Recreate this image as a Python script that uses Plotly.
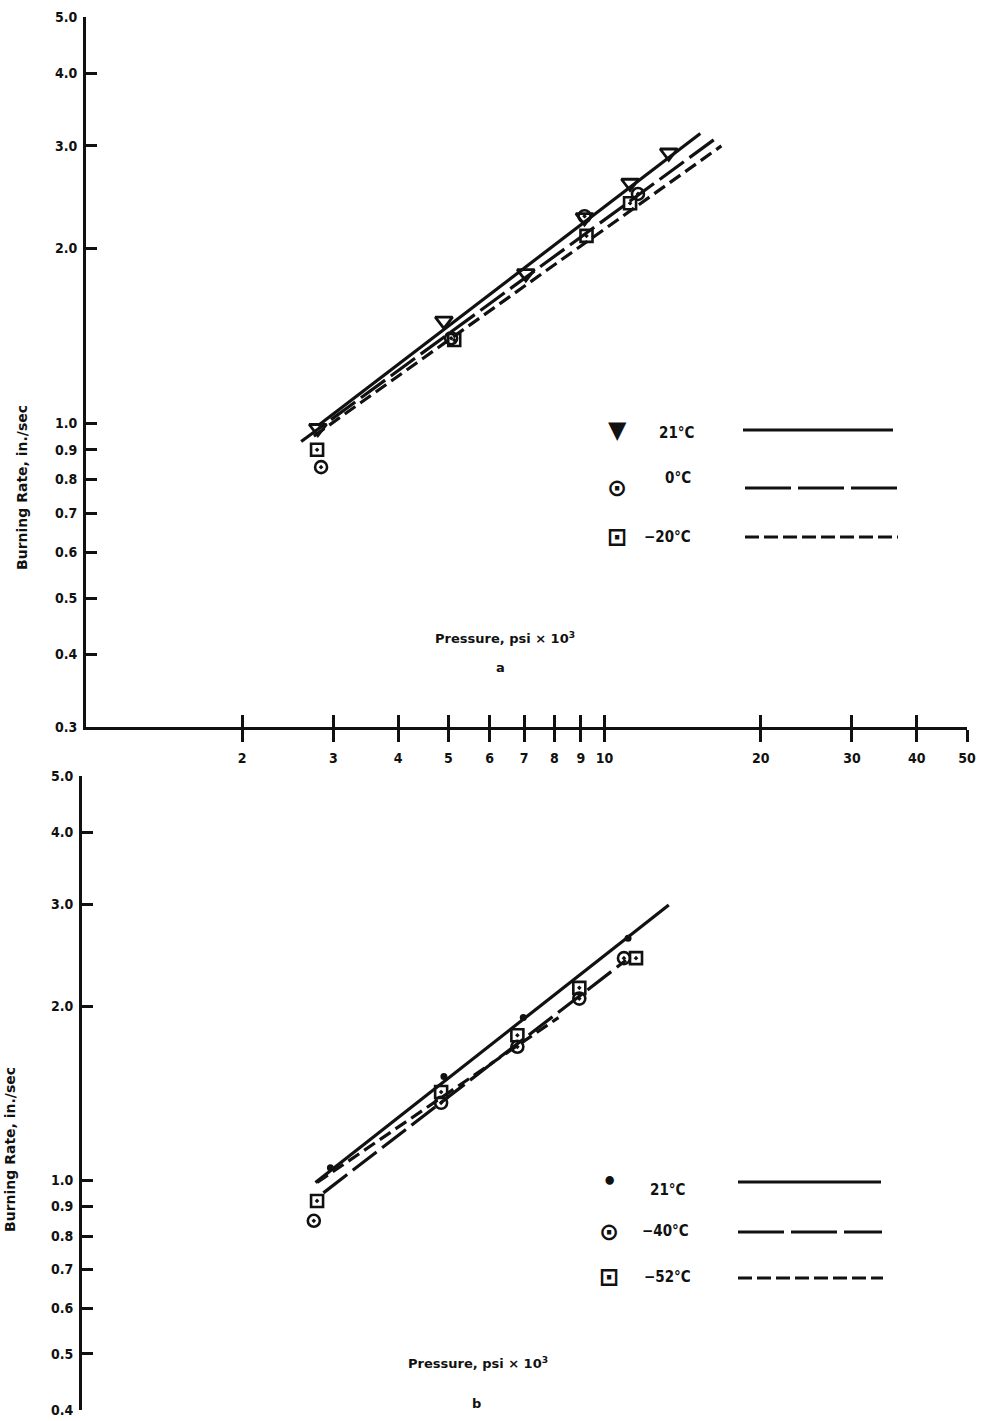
import math
import plotly.graph_objects as go

# ---------------- data ----------------
# panel a
a_p21 = [2.8, 4.9, 7.05, 9.15, 11.2, 13.3]
a_r21 = [0.98, 1.50, 1.81, 2.26, 2.59, 2.92]
a_p0 = [2.84, 5.06, 9.15, 11.6]
a_r0 = [0.84, 1.40, 2.27, 2.48]
a_pm20 = [2.79, 5.13, 9.23, 11.2]
a_rm20 = [0.90, 1.39, 2.10, 2.39]
a_fit21_p = [2.8, 15.3]
a_fit21_r = [0.99, 3.15]
a_fit0_p = [2.6, 16.3]
a_fit0_r = [0.93, 3.08]
a_fitm20_p = [2.75, 16.8]
a_fitm20_r = [0.95, 3.0]

# panel b
b_p21 = [2.96, 4.9, 6.97, 11.1]
b_r21 = [1.05, 1.51, 1.91, 2.62]
b_pm40 = [2.75, 4.84, 6.79, 8.94, 10.9]
b_rm40 = [0.85, 1.36, 1.70, 2.06, 2.42]
b_pm52 = [2.79, 4.84, 6.79, 8.94, 11.5]
b_rm52 = [0.92, 1.42, 1.78, 2.15, 2.42]
b_fit21_p = [2.77, 13.3]
b_fit21_r = [0.99, 2.99]
b_fitm40_p = [2.87, 11.0]
b_fitm40_r = [0.95, 2.40]
b_fitm52_p = [2.79, 8.15]
b_fitm52_r = [0.99, 1.91]

x_ticks = [2, 3, 4, 5, 6, 7, 8, 9, 10, 20, 30, 40, 50]
x_ticktext = ["2", "3", "4", "5", "6", "7", "8", "9", "10", "20", "30", "40", "50"]
ya_ticks = [0.3, 0.4, 0.5, 0.6, 0.7, 0.8, 0.9, 1.0, 2.0, 3.0, 4.0, 5.0]
ya_text = ["0.3", "0.4", "0.5", "0.6", "0.7", "0.8", "0.9", "1.0", "2.0", "3.0", "4.0", "5.0"]
yb_ticks = [0.4, 0.5, 0.6, 0.7, 0.8, 0.9, 1.0, 2.0, 3.0, 4.0, 5.0]
yb_text = ["0.4", "0.5", "0.6", "0.7", "0.8", "0.9", "1.0", "2.0", "3.0", "4.0", "5.0"]

legend_a = ["21°C", "0°C", "−20°C"]
legend_b = ["21°C", "−40°C", "−52°C"]
xlabel = "Pressure, psi × 10<sup>3</sup>"
ylabel = "Burning Rate, in./sec"

# ---------------- geometry ----------------
W, H = 983, 1421
TICKFAM = "DejaVu Sans Condensed, Liberation Sans Narrow, sans-serif"
LBLFAM = "DejaVu Sans, sans-serif"
INK = "#111111"


def px(x):
    return x / W


def py(y):
    return 1 - y / H


fig = go.Figure()

SOLID = "solid"
LONG = "30px,7px"
SHORT = "13px,6px"
LEG_LONG = "46px,7px"
LEG_SHORT = "14px,5px"
LW = 3.2

for p, r, d in [(a_fit21_p, a_fit21_r, SOLID), (a_fit0_p, a_fit0_r, LONG), (a_fitm20_p, a_fitm20_r, SHORT)]:
    fig.add_trace(go.Scatter(x=p, y=r, mode="lines", line=dict(color=INK, width=LW, dash=d),
                             xaxis="x", yaxis="y", showlegend=False, hoverinfo="skip"))
fig.add_trace(go.Scatter(x=a_p21, y=a_r21, mode="markers", xaxis="x", yaxis="y", showlegend=False,
                         marker=dict(symbol="triangle-down-open", size=15, color=INK, line=dict(width=2.8, color=INK))))
fig.add_trace(go.Scatter(x=a_p0, y=a_r0, mode="markers", xaxis="x", yaxis="y", showlegend=False,
                         marker=dict(symbol="circle-open-dot", size=12, color=INK, line=dict(width=2.6, color=INK))))
fig.add_trace(go.Scatter(x=a_pm20, y=a_rm20, mode="markers", xaxis="x", yaxis="y", showlegend=False,
                         marker=dict(symbol="square-open-dot", size=12, color=INK, line=dict(width=2.6, color=INK))))

for p, r, d in [(b_fit21_p, b_fit21_r, SOLID), (b_fitm40_p, b_fitm40_r, LONG), (b_fitm52_p, b_fitm52_r, SHORT)]:
    fig.add_trace(go.Scatter(x=p, y=r, mode="lines", line=dict(color=INK, width=LW, dash=d),
                             xaxis="x2", yaxis="y2", showlegend=False, hoverinfo="skip"))
fig.add_trace(go.Scatter(x=b_p21, y=b_r21, mode="markers", xaxis="x2", yaxis="y2", showlegend=False,
                         marker=dict(symbol="circle", size=7, color=INK)))
fig.add_trace(go.Scatter(x=b_pm40, y=b_rm40, mode="markers", xaxis="x2", yaxis="y2", showlegend=False,
                         marker=dict(symbol="circle-open-dot", size=12, color=INK, line=dict(width=2.6, color=INK))))
fig.add_trace(go.Scatter(x=b_pm52, y=b_rm52, mode="markers", xaxis="x2", yaxis="y2", showlegend=False,
                         marker=dict(symbol="square-open-dot", size=12, color=INK, line=dict(width=2.6, color=INK))))

# hidden trace so the overlay axis (upward tick halves) is drawn
fig.add_trace(go.Scatter(x=[x_ticks[0]], y=[ya_ticks[-1]], mode="markers", xaxis="x3", yaxis="y",
                         marker=dict(opacity=0), showlegend=False, hoverinfo="skip"))

tickfont = dict(family=TICKFAM, size=14, color=INK, weight="bold")
x_range = [0, math.log10(50)]
xa_l, xa_r = 86, 967
xb_l = 82
x_range_b = [-(xa_l - xb_l) * (x_range[1] - x_range[0]) / (xa_r - xa_l), x_range[1]]

fig.update_layout(
    width=W, height=H, autosize=False, margin=dict(l=0, r=0, t=0, b=0, pad=0),
    paper_bgcolor="white", plot_bgcolor="rgba(0,0,0,0)", showlegend=False,
    xaxis=dict(type="log", range=x_range, domain=[px(xa_l), px(xa_r)], anchor="y", automargin=False,
               tickvals=x_ticks, ticktext=x_ticktext, ticks="outside", ticklen=12, tickwidth=2.5,
               tickcolor=INK, showline=True, linewidth=3, linecolor=INK, showgrid=False,
               zeroline=False, tickfont=tickfont, ticklabelstandoff=4),
    xaxis3=dict(type="log", range=x_range, domain=[px(xa_l), px(xa_r)], anchor="y", overlaying="x",
                automargin=False, tickvals=x_ticks, ticks="inside", ticklen=12, tickwidth=2.5,
                tickcolor=INK, showticklabels=False, showline=False, showgrid=False, zeroline=False),
    yaxis=dict(type="log", range=[math.log10(0.3), math.log10(5)], domain=[py(727), py(17)],
               anchor="x", automargin=False, tickvals=ya_ticks, ticktext=ya_text, ticks="inside",
               ticklen=11, tickwidth=3, tickcolor=INK, showline=True, linewidth=3, linecolor=INK,
               showgrid=False, zeroline=False, tickfont=tickfont, ticklabelstandoff=3),
    xaxis2=dict(type="log", range=x_range_b, domain=[px(xb_l), px(xa_r)], anchor="y2",
                automargin=False, visible=False, showgrid=False, zeroline=False),
    yaxis2=dict(type="log", range=[math.log10(0.4), math.log10(5)], domain=[py(1410), py(776)],
                anchor="x2", automargin=False, tickvals=yb_ticks, ticktext=yb_text, ticks="inside",
                ticklen=11, tickwidth=3, tickcolor=INK, showline=True, linewidth=3, linecolor=INK,
                showgrid=False, zeroline=False, tickfont=tickfont, ticklabelstandoff=3),
)

xlblfont = dict(family=LBLFAM, size=13, color=INK, weight="bold")
ylblfont = dict(family=LBLFAM, size=14, color=INK, weight="bold")
annotations = [
    dict(x=px(505), y=py(638), text=xlabel, font=xlblfont),
    dict(x=px(500), y=py(667), text="a", font=xlblfont),
    dict(x=px(478), y=py(1363), text=xlabel, font=xlblfont),
    dict(x=px(476), y=py(1403), text="b", font=xlblfont),
    dict(x=px(22), y=py(488), text=ylabel, textangle=-90, font=ylblfont),
    dict(x=px(10), y=py(1150), text=ylabel, textangle=-90, font=ylblfont),
]
legfont = dict(family=TICKFAM, size=15, color=INK, weight="bold")
symfont = dict(family="DejaVu Sans", size=24, color=INK, weight="bold")
leg_a_rows = [(430, 433, "▼", 677), (488, 478, "⊙", 678), (537, 537, "⊡", 667)]
leg_b_rows = [(1182, 1190, "•", 668), (1232, 1231, "⊙", 665), (1277, 1277, "⊡", 667)]
for (ys, yt, sym, xt), lab in zip(leg_a_rows, legend_a):
    annotations.append(dict(x=px(617), y=py(ys), text=sym, font=symfont))
    annotations.append(dict(x=px(xt), y=py(yt), text=lab, font=legfont))
for (ys, yt, sym, xt), lab in zip(leg_b_rows, legend_b):
    annotations.append(dict(x=px(609), y=py(ys), text=sym, font=symfont))
    annotations.append(dict(x=px(xt), y=py(yt), text=lab, font=legfont))
for a in annotations:
    a.update(xref="paper", yref="paper", showarrow=False, xanchor="center", yanchor="middle")
fig.update_layout(annotations=annotations)

shapes = []
for (y0, x0, x1), d in zip([(430, 743, 893), (488, 745, 898), (537, 745, 898)], [SOLID, LEG_LONG, LEG_SHORT]):
    shapes.append(dict(type="line", xref="paper", yref="paper", x0=px(x0), x1=px(x1), y0=py(y0), y1=py(y0),
                       line=dict(color=INK, width=3, dash=d)))
for (y0, x0, x1), d in zip([(1182, 738, 881), (1232, 738, 882), (1278, 738, 883)], [SOLID, LEG_LONG, LEG_SHORT]):
    shapes.append(dict(type="line", xref="paper", yref="paper", x0=px(x0), x1=px(x1), y0=py(y0), y1=py(y0),
                       line=dict(color=INK, width=3, dash=d)))
fig.update_layout(shapes=shapes)

post = ("document.documentElement.style.margin='0';document.body.style.margin='0';"
        "document.documentElement.style.overflow='hidden';document.body.style.overflow='hidden';")
fig.write_html("out.html", config={"displayModeBar": False}, post_script=post)
